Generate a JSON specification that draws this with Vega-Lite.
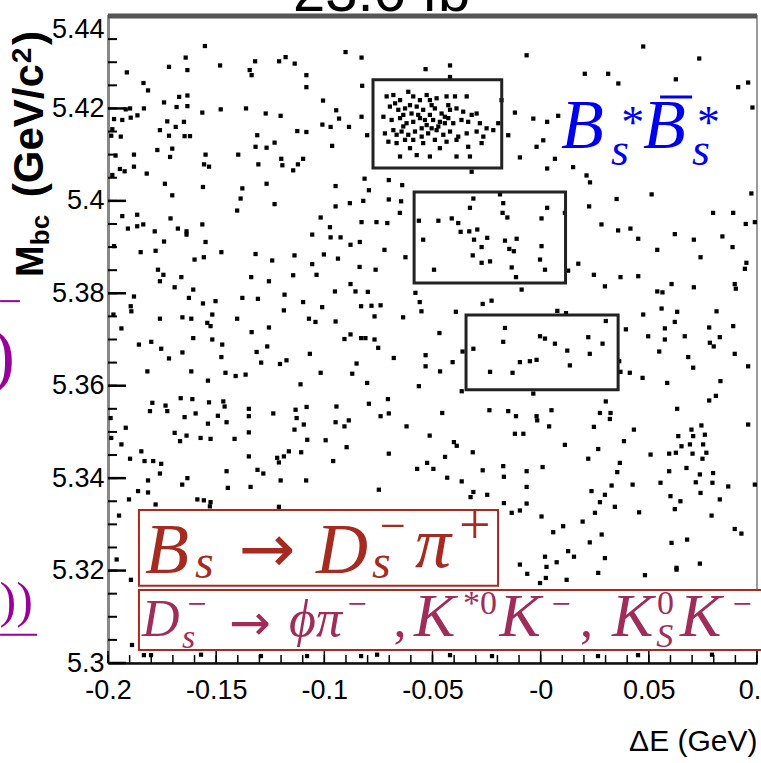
{
"$schema":"https://vega.github.io/schema/vega-lite/v6.json",
"width":649,"height":647,
"autosize":{"type":"none"},
"padding":{"left":108,"top":16,"right":4,"bottom":100},
"background":"white",
"config":{"view":{"stroke":"#9a9a9a","strokeWidth":2},"font":"Liberation Sans"},
"data":{"values":[{}]},
"layer":[
{"data":{"values":[
{"dE":-0.1552,"Mbc":5.4335},{"dE":-0.0902,"Mbc":5.4322},{"dE":-0.0828,"Mbc":5.4310},{"dE":-0.1641,"Mbc":5.4310},{"dE":-0.1718,"Mbc":5.4290},{"dE":-0.1633,"Mbc":5.4283},{"dE":-0.1482,"Mbc":5.4293},{"dE":-0.1320,"Mbc":5.4302},{"dE":-0.1209,"Mbc":5.4302},{"dE":-0.1179,"Mbc":5.4311},{"dE":-0.1137,"Mbc":5.4297},{"dE":-0.1913,"Mbc":5.4278},{"dE":-0.1345,"Mbc":5.4283},{"dE":-0.1336,"Mbc":5.4272},{"dE":-0.1083,"Mbc":5.4272},{"dE":-0.1083,"Mbc":5.4246},{"dE":-0.0825,"Mbc":5.4249},{"dE":-0.0532,"Mbc":5.4285},{"dE":-0.1836,"Mbc":5.4255},{"dE":-0.1815,"Mbc":5.4239},{"dE":-0.1633,"Mbc":5.4228},{"dE":-0.1671,"Mbc":5.4225},{"dE":-0.1741,"Mbc":5.4213},{"dE":-0.1683,"Mbc":5.4203},{"dE":-0.1633,"Mbc":5.4205},{"dE":-0.1006,"Mbc":5.4217},{"dE":-0.1479,"Mbc":5.4198},{"dE":-0.1362,"Mbc":5.4200},{"dE":-0.1564,"Mbc":5.4191},{"dE":-0.1271,"Mbc":5.4189},{"dE":-0.1202,"Mbc":5.4184},{"dE":-0.0945,"Mbc":5.4196},{"dE":-0.0932,"Mbc":5.4178},{"dE":-0.0828,"Mbc":5.4182},{"dE":-0.1009,"Mbc":5.4165},{"dE":-0.0971,"Mbc":5.4160},{"dE":-0.0886,"Mbc":5.4160},{"dE":-0.1125,"Mbc":5.4151},{"dE":-0.1083,"Mbc":5.4149},{"dE":-0.1834,"Mbc":5.4200},{"dE":-0.1918,"Mbc":5.4198},{"dE":-0.1898,"Mbc":5.4200},{"dE":-0.1864,"Mbc":5.4185},{"dE":-0.1895,"Mbc":5.4180},{"dE":-0.1934,"Mbc":5.4175},{"dE":-0.1972,"Mbc":5.4177},{"dE":-0.1726,"Mbc":5.4172},{"dE":-0.1649,"Mbc":5.4171},{"dE":-0.1687,"Mbc":5.4160},{"dE":-0.1760,"Mbc":5.4153},{"dE":-0.1718,"Mbc":5.4141},{"dE":-0.1646,"Mbc":5.4140},{"dE":-0.1621,"Mbc":5.4140},{"dE":-0.1310,"Mbc":5.4142},{"dE":-0.1267,"Mbc":5.4115},{"dE":-0.1230,"Mbc":5.4126},{"dE":-0.1318,"Mbc":5.4117},{"dE":-0.0964,"Mbc":5.4119},{"dE":-0.1703,"Mbc":5.4113},{"dE":-0.1772,"Mbc":5.4110},{"dE":-0.1713,"Mbc":5.4095},{"dE":-0.1880,"Mbc":5.4100},{"dE":-0.1549,"Mbc":5.4100},{"dE":-0.1398,"Mbc":5.4100},{"dE":-0.1199,"Mbc":5.4091},{"dE":-0.1098,"Mbc":5.4091},{"dE":-0.1122,"Mbc":5.4079},{"dE":-0.1305,"Mbc":5.4079},{"dE":-0.1194,"Mbc":5.4077},{"dE":-0.1556,"Mbc":5.4079},{"dE":-0.1533,"Mbc":5.4074},{"dE":-0.1880,"Mbc":5.4074},{"dE":-0.1923,"Mbc":5.4064},{"dE":-0.1945,"Mbc":5.4069},{"dE":-0.1980,"Mbc":5.4056},{"dE":-0.1821,"Mbc":5.4059},{"dE":-0.1144,"Mbc":5.4066},{"dE":-0.1737,"Mbc":5.4037},{"dE":-0.1561,"Mbc":5.4030},{"dE":-0.1267,"Mbc":5.4037},{"dE":-0.1379,"Mbc":5.4027},{"dE":-0.0948,"Mbc":5.4032},{"dE":-0.0814,"Mbc":5.4048},{"dE":-0.0794,"Mbc":5.4023},{"dE":-0.0702,"Mbc":5.4045},{"dE":-0.0640,"Mbc":5.4034},{"dE":-0.1703,"Mbc":5.4012},{"dE":-0.1387,"Mbc":5.4005},{"dE":-0.1980,"Mbc":5.4155},{"dE":-0.1985,"Mbc":5.4141},{"dE":-0.1941,"Mbc":5.4139},{"dE":-0.1965,"Mbc":5.4098},{"dE":-0.0802,"Mbc":5.4142},
{"dE":-0.0712,"Mbc":5.4226},{"dE":-0.0681,"Mbc":5.4229},{"dE":-0.0650,"Mbc":5.4218},{"dE":-0.0612,"Mbc":5.4236},{"dE":-0.0589,"Mbc":5.4226},{"dE":-0.0558,"Mbc":5.4218},{"dE":-0.0527,"Mbc":5.4229},{"dE":-0.0512,"Mbc":5.4218},{"dE":-0.0481,"Mbc":5.4222},{"dE":-0.0435,"Mbc":5.4226},{"dE":-0.0396,"Mbc":5.4226},{"dE":-0.0342,"Mbc":5.4226},{"dE":-0.0697,"Mbc":5.4204},{"dE":-0.0658,"Mbc":5.4197},{"dE":-0.0627,"Mbc":5.4200},{"dE":-0.0597,"Mbc":5.4189},{"dE":-0.0573,"Mbc":5.4204},{"dE":-0.0543,"Mbc":5.4197},{"dE":-0.0512,"Mbc":5.4186},{"dE":-0.0489,"Mbc":5.4200},{"dE":-0.0458,"Mbc":5.4189},{"dE":-0.0419,"Mbc":5.4197},{"dE":-0.0389,"Mbc":5.4200},{"dE":-0.0358,"Mbc":5.4193},{"dE":-0.0319,"Mbc":5.4186},{"dE":-0.0296,"Mbc":5.4189},{"dE":-0.0727,"Mbc":5.4182},{"dE":-0.0689,"Mbc":5.4175},{"dE":-0.0650,"Mbc":5.4179},{"dE":-0.0620,"Mbc":5.4168},{"dE":-0.0589,"Mbc":5.4171},{"dE":-0.0558,"Mbc":5.4179},{"dE":-0.0527,"Mbc":5.4164},{"dE":-0.0497,"Mbc":5.4175},{"dE":-0.0466,"Mbc":5.4171},{"dE":-0.0427,"Mbc":5.4179},{"dE":-0.0404,"Mbc":5.4168},{"dE":-0.0366,"Mbc":5.4175},{"dE":-0.0335,"Mbc":5.4171},{"dE":-0.0281,"Mbc":5.4168},{"dE":-0.0720,"Mbc":5.4146},{"dE":-0.0681,"Mbc":5.4153},{"dE":-0.0643,"Mbc":5.4150},{"dE":-0.0612,"Mbc":5.4143},{"dE":-0.0581,"Mbc":5.4150},{"dE":-0.0550,"Mbc":5.4157},{"dE":-0.0520,"Mbc":5.4146},{"dE":-0.0481,"Mbc":5.4153},{"dE":-0.0450,"Mbc":5.4143},{"dE":-0.0419,"Mbc":5.4150},{"dE":-0.0381,"Mbc":5.4139},{"dE":-0.0342,"Mbc":5.4146},{"dE":-0.0296,"Mbc":5.4150},{"dE":-0.0250,"Mbc":5.4157},{"dE":-0.0219,"Mbc":5.4153},{"dE":-0.0704,"Mbc":5.4128},{"dE":-0.0666,"Mbc":5.4125},{"dE":-0.0627,"Mbc":5.4132},{"dE":-0.0589,"Mbc":5.4132},{"dE":-0.0543,"Mbc":5.4125},{"dE":-0.0489,"Mbc":5.4132},{"dE":-0.0435,"Mbc":5.4128},{"dE":-0.0389,"Mbc":5.4132},{"dE":-0.0335,"Mbc":5.4117},{"dE":-0.0273,"Mbc":5.4125},{"dE":-0.0650,"Mbc":5.4096},{"dE":-0.0573,"Mbc":5.4099},{"dE":-0.0512,"Mbc":5.4096},{"dE":-0.0389,"Mbc":5.4096},{"dE":-0.0327,"Mbc":5.4096},{"dE":-0.0196,"Mbc":5.4168},{"dE":-0.0181,"Mbc":5.4218},{"dE":-0.0265,"Mbc":5.4139},{"dE":-0.0466,"Mbc":5.4114},{"dE":-0.0604,"Mbc":5.4114},{"dE":-0.0673,"Mbc":5.4211},{"dE":-0.0635,"Mbc":5.4186},{"dE":-0.0604,"Mbc":5.4207},{"dE":-0.0566,"Mbc":5.4186},{"dE":-0.0535,"Mbc":5.4175},{"dE":-0.0504,"Mbc":5.4207},{"dE":-0.0473,"Mbc":5.4161},{"dE":-0.0443,"Mbc":5.4168},{"dE":-0.0427,"Mbc":5.4207},{"dE":-0.0550,"Mbc":5.4139},{"dE":-0.0504,"Mbc":5.4157},{"dE":-0.0443,"Mbc":5.4182},{"dE":-0.0635,"Mbc":5.4161},{"dE":-0.0666,"Mbc":5.4143},
{"dE":0.0474,"Mbc":5.4334},{"dE":-0.0065,"Mbc":5.4315},{"dE":0.0733,"Mbc":5.4308},{"dE":-0.0419,"Mbc":5.4293},{"dE":0.0204,"Mbc":5.4275},{"dE":0.0312,"Mbc":5.4275},{"dE":0.0359,"Mbc":5.4254},{"dE":0.0625,"Mbc":5.4263},{"dE":0.0913,"Mbc":5.4246},{"dE":0.0959,"Mbc":5.4256},{"dE":0.0979,"Mbc":5.4202},{"dE":0.0486,"Mbc":5.4239},{"dE":-0.0119,"Mbc":5.4191},{"dE":-0.0034,"Mbc":5.4178},{"dE":0.0030,"Mbc":5.4171},{"dE":0.0081,"Mbc":5.4184},{"dE":-0.0150,"Mbc":5.4142},{"dE":0.0012,"Mbc":5.4131},{"dE":-0.0019,"Mbc":5.4117},{"dE":-0.0096,"Mbc":5.4094},{"dE":0.0066,"Mbc":5.4091},{"dE":0.0030,"Mbc":5.4070},{"dE":0.0150,"Mbc":5.4073},{"dE":0.0212,"Mbc":5.4055},{"dE":0.0228,"Mbc":5.4040},{"dE":0.0351,"Mbc":5.4004},{"dE":0.0513,"Mbc":5.4014},{"dE":0.0974,"Mbc":5.4016},{"dE":-0.0188,"Mbc":5.4014},{"dE":-0.0311,"Mbc":5.4005},{"dE":-0.0319,"Mbc":5.4063},{"dE":-0.0419,"Mbc":5.4268},
{"dE":-0.1403,"Mbc":5.3979},{"dE":-0.1230,"Mbc":5.3993},{"dE":-0.0948,"Mbc":5.3988},{"dE":-0.0882,"Mbc":5.3995},{"dE":-0.0820,"Mbc":5.4000},{"dE":-0.0702,"Mbc":5.4003},{"dE":-0.0645,"Mbc":5.3999},{"dE":-0.0651,"Mbc":5.3974},{"dE":-0.1934,"Mbc":5.3967},{"dE":-0.1865,"Mbc":5.3970},{"dE":-0.1837,"Mbc":5.3949},{"dE":-0.1865,"Mbc":5.3945},{"dE":-0.1908,"Mbc":5.3940},{"dE":-0.1711,"Mbc":5.3962},{"dE":-0.1784,"Mbc":5.3934},{"dE":-0.1677,"Mbc":5.3940},{"dE":-0.1637,"Mbc":5.3934},{"dE":-0.1637,"Mbc":5.3927},{"dE":-0.1564,"Mbc":5.3949},{"dE":-0.1741,"Mbc":5.3912},{"dE":-0.1549,"Mbc":5.3911},{"dE":-0.1017,"Mbc":5.3964},{"dE":-0.0974,"Mbc":5.3943},{"dE":-0.0828,"Mbc":5.3954},{"dE":-0.0759,"Mbc":5.3954},{"dE":-0.0709,"Mbc":5.3952},{"dE":-0.1056,"Mbc":5.3927},{"dE":-0.0971,"Mbc":5.3921},{"dE":-0.0925,"Mbc":5.3921},{"dE":-0.0879,"Mbc":5.3905},{"dE":-0.0836,"Mbc":5.3911},{"dE":-0.0722,"Mbc":5.3894},{"dE":-0.0625,"Mbc":5.3878},{"dE":-0.0563,"Mbc":5.3957},{"dE":-0.0543,"Mbc":5.3916},{"dE":-0.1849,"Mbc":5.3889},{"dE":-0.1780,"Mbc":5.3892},{"dE":-0.1476,"Mbc":5.3889},{"dE":-0.1318,"Mbc":5.3885},{"dE":-0.1600,"Mbc":5.3873},{"dE":-0.1557,"Mbc":5.3878},{"dE":-0.1241,"Mbc":5.3871},{"dE":-0.1138,"Mbc":5.3882},{"dE":-0.1002,"Mbc":5.3884},{"dE":-0.0937,"Mbc":5.3875},{"dE":-0.1056,"Mbc":5.3863},{"dE":-0.0837,"Mbc":5.3857},{"dE":-0.0763,"Mbc":5.3851},{"dE":-0.1769,"Mbc":5.3851},{"dE":-0.1744,"Mbc":5.3840},{"dE":-0.1661,"Mbc":5.3835},{"dE":-0.1760,"Mbc":5.3826},{"dE":-0.1338,"Mbc":5.3835},{"dE":-0.1256,"Mbc":5.3826},{"dE":-0.1144,"Mbc":5.3839},{"dE":-0.1036,"Mbc":5.3840},{"dE":-0.0879,"Mbc":5.3820},{"dE":-0.1692,"Mbc":5.3813},{"dE":-0.1606,"Mbc":5.3808},{"dE":-0.0856,"Mbc":5.3804},{"dE":-0.0799,"Mbc":5.3803},{"dE":-0.0951,"Mbc":5.3804},{"dE":-0.1880,"Mbc":5.3793},{"dE":-0.1626,"Mbc":5.3790},{"dE":-0.1561,"Mbc":5.3778},{"dE":-0.1503,"Mbc":5.3783},{"dE":-0.1379,"Mbc":5.3790},{"dE":-0.1307,"Mbc":5.3788},{"dE":-0.1184,"Mbc":5.3797},{"dE":-0.1098,"Mbc":5.3781},{"dE":-0.1010,"Mbc":5.3770},{"dE":-0.0830,"Mbc":5.3772},{"dE":-0.0782,"Mbc":5.3773},{"dE":-0.0740,"Mbc":5.3774},{"dE":-0.0579,"Mbc":5.3801},{"dE":-0.0559,"Mbc":5.3781},{"dE":-0.0551,"Mbc":5.3761},{"dE":-0.1895,"Mbc":5.3772},{"dE":-0.1892,"Mbc":5.3761},{"dE":-0.1760,"Mbc":5.3745},{"dE":-0.1656,"Mbc":5.3748},{"dE":-0.1615,"Mbc":5.3745},{"dE":-0.1518,"Mbc":5.3754},{"dE":-0.1403,"Mbc":5.3745},{"dE":-0.1187,"Mbc":5.3763},{"dE":-0.1071,"Mbc":5.3745},{"dE":-0.1041,"Mbc":5.3738},{"dE":-0.0948,"Mbc":5.3739},{"dE":-0.0768,"Mbc":5.3750},{"dE":-0.0636,"Mbc":5.3748},{"dE":-0.1938,"Mbc":5.3724},{"dE":-0.1541,"Mbc":5.3736},{"dE":-0.1526,"Mbc":5.3729},{"dE":-0.1336,"Mbc":5.3716},{"dE":-0.1256,"Mbc":5.3726},{"dE":-0.0907,"Mbc":5.3701},{"dE":-0.0879,"Mbc":5.3711},{"dE":-0.0830,"Mbc":5.3703},{"dE":-0.0810,"Mbc":5.3703},{"dE":-0.0768,"Mbc":5.3700},{"dE":-0.0751,"Mbc":5.3682},{"dE":-0.1857,"Mbc":5.3689},{"dE":-0.1800,"Mbc":5.3695},{"dE":-0.1754,"Mbc":5.3680},{"dE":-0.1718,"Mbc":5.3659},{"dE":-0.1656,"Mbc":5.3672},{"dE":-0.1606,"Mbc":5.3703},{"dE":-0.1518,"Mbc":5.3700},{"dE":-0.1472,"Mbc":5.3689},{"dE":-0.1476,"Mbc":5.3662},{"dE":-0.1313,"Mbc":5.3673},{"dE":-0.1264,"Mbc":5.3685},{"dE":-0.1067,"Mbc":5.3669},{"dE":-0.0679,"Mbc":5.3660},{"dE":-0.0532,"Mbc":5.3666},{"dE":-0.0532,"Mbc":5.3642},{"dE":-0.1292,"Mbc":5.3650},{"dE":-0.1205,"Mbc":5.3647},{"dE":-0.1175,"Mbc":5.3655},{"dE":-0.0851,"Mbc":5.3648},{"dE":-0.1818,"Mbc":5.3631},{"dE":-0.1615,"Mbc":5.3631},{"dE":-0.1457,"Mbc":5.3628},{"dE":-0.1410,"Mbc":5.3621},{"dE":-0.1364,"Mbc":5.3624},{"dE":-0.1017,"Mbc":5.3628},{"dE":-0.0871,"Mbc":5.3626},{"dE":-0.1538,"Mbc":5.3611},{"dE":-0.1110,"Mbc":5.3603},{"dE":-0.0802,"Mbc":5.3606},{"dE":-0.0563,"Mbc":5.3599},{"dE":-0.1972,"Mbc":5.3902},{"dE":-0.1975,"Mbc":5.3754},
{"dE":-0.0327,"Mbc":5.3985},{"dE":-0.0173,"Mbc":5.3995},{"dE":-0.0176,"Mbc":5.3974},{"dE":-0.0154,"Mbc":5.3964},{"dE":0.0030,"Mbc":5.3985},{"dE":-0.0473,"Mbc":5.3957},{"dE":-0.0411,"Mbc":5.3962},{"dE":-0.0381,"Mbc":5.3952},{"dE":-0.0370,"Mbc":5.3933},{"dE":-0.0330,"Mbc":5.3934},{"dE":-0.0293,"Mbc":5.3938},{"dE":-0.0308,"Mbc":5.3916},{"dE":-0.0247,"Mbc":5.3920},{"dE":-0.0273,"Mbc":5.3900},{"dE":-0.0165,"Mbc":5.3914},{"dE":-0.0111,"Mbc":5.3918},{"dE":-0.0145,"Mbc":5.3896},{"dE":-0.0124,"Mbc":5.3891},{"dE":-0.0314,"Mbc":5.3882},{"dE":-0.0273,"Mbc":5.3866},{"dE":-0.0234,"Mbc":5.3869},{"dE":-0.0134,"Mbc":5.3856},{"dE":-0.0003,"Mbc":5.3873},{"dE":0.0004,"Mbc":5.3902},{"dE":0.0004,"Mbc":5.3962},{"dE":0.0020,"Mbc":5.3851},{"dE":-0.0114,"Mbc":5.3835},{"dE":-0.0493,"Mbc":5.3851},{"dE":0.0112,"Mbc":5.3974},
{"dE":0.0224,"Mbc":5.3988},{"dE":0.0281,"Mbc":5.3949},{"dE":0.0358,"Mbc":5.3936},{"dE":0.0415,"Mbc":5.3940},{"dE":0.0451,"Mbc":5.3918},{"dE":0.0620,"Mbc":5.3928},{"dE":0.0708,"Mbc":5.3916},{"dE":0.0840,"Mbc":5.3923},{"dE":0.0797,"Mbc":5.3974},{"dE":0.0890,"Mbc":5.3974},{"dE":0.0948,"Mbc":5.3950},{"dE":0.0990,"Mbc":5.3954},{"dE":0.0539,"Mbc":5.3894},{"dE":0.0739,"Mbc":5.3878},{"dE":0.0887,"Mbc":5.3900},{"dE":0.0951,"Mbc":5.3866},{"dE":0.0944,"Mbc":5.3853},{"dE":0.0174,"Mbc":5.3864},{"dE":0.0246,"Mbc":5.3840},{"dE":0.0369,"Mbc":5.3835},{"dE":0.0451,"Mbc":5.3837},{"dE":0.0297,"Mbc":5.3815},{"dE":0.0127,"Mbc":5.3849},{"dE":0.0605,"Mbc":5.3820},{"dE":0.0708,"Mbc":5.3813},{"dE":0.0539,"Mbc":5.3804},{"dE":0.0563,"Mbc":5.3802},{"dE":0.0897,"Mbc":5.3820},{"dE":0.0902,"Mbc":5.3810},{"dE":-0.0088,"Mbc":5.3808},{"dE":-0.0268,"Mbc":5.3777},{"dE":-0.0227,"Mbc":5.3784},{"dE":-0.0392,"Mbc":5.3760},{"dE":0.0077,"Mbc":5.3762},{"dE":0.0117,"Mbc":5.3757},{"dE":0.0474,"Mbc":5.3754},{"dE":0.0559,"Mbc":5.3767},{"dE":0.0631,"Mbc":5.3760},{"dE":0.0620,"Mbc":5.3738},{"dE":0.0813,"Mbc":5.3761},{"dE":0.0890,"Mbc":5.3729},{"dE":0.0394,"Mbc":5.3722},{"dE":0.0497,"Mbc":5.3707},{"dE":0.0574,"Mbc":5.3700},{"dE":0.0574,"Mbc":5.3724},{"dE":0.0666,"Mbc":5.3707},{"dE":0.0779,"Mbc":5.3726},{"dE":0.0782,"Mbc":5.3693},{"dE":0.0800,"Mbc":5.3685},{"dE":0.0828,"Mbc":5.3705},{"dE":0.0548,"Mbc":5.3674},{"dE":0.0682,"Mbc":5.3662},{"dE":0.0897,"Mbc":5.3669},{"dE":0.0705,"Mbc":5.3639},{"dE":0.0959,"Mbc":5.3642},{"dE":0.0471,"Mbc":5.3617},{"dE":0.0585,"Mbc":5.3606},{"dE":0.0831,"Mbc":5.3610},{"dE":-0.0468,"Mbc":5.3714},{"dE":-0.0407,"Mbc":5.3651},{"dE":-0.0361,"Mbc":5.3674},{"dE":-0.0465,"Mbc":5.3631},
{"dE":-0.0165,"Mbc":5.3725},{"dE":-0.0173,"Mbc":5.3695},{"dE":-0.0003,"Mbc":5.3707},{"dE":0.0020,"Mbc":5.3702},{"dE":0.0066,"Mbc":5.3691},{"dE":-0.0311,"Mbc":5.3680},{"dE":0.0123,"Mbc":5.3676},{"dE":0.0220,"Mbc":5.3705},{"dE":0.0286,"Mbc":5.3691},{"dE":0.0227,"Mbc":5.3669},{"dE":-0.0096,"Mbc":5.3651},{"dE":-0.0050,"Mbc":5.3653},{"dE":-0.0019,"Mbc":5.3656},{"dE":0.0135,"Mbc":5.3644},{"dE":-0.0234,"Mbc":5.3630},{"dE":-0.0130,"Mbc":5.3628},{"dE":0.0301,"Mbc":5.3740},{"dE":0.0363,"Mbc":5.3653},{"dE":0.0369,"Mbc":5.3630},{"dE":0.0412,"Mbc":5.3628},
{"dE":-0.1795,"Mbc":5.3563},{"dE":-0.1734,"Mbc":5.3557},{"dE":-0.1664,"Mbc":5.3573},{"dE":-0.1610,"Mbc":5.3571},{"dE":-0.1533,"Mbc":5.3564},{"dE":-0.1467,"Mbc":5.3566},{"dE":-0.1461,"Mbc":5.3555},{"dE":-0.1806,"Mbc":5.3545},{"dE":-0.1726,"Mbc":5.3545},{"dE":-0.1646,"Mbc":5.3532},{"dE":-0.1595,"Mbc":5.3540},{"dE":-0.1538,"Mbc":5.3518},{"dE":-0.1492,"Mbc":5.3535},{"dE":-0.1452,"Mbc":5.3521},{"dE":-0.1349,"Mbc":5.3550},{"dE":-0.1349,"Mbc":5.3534},{"dE":-0.1236,"Mbc":5.3540},{"dE":-0.1133,"Mbc":5.3548},{"dE":-0.1128,"Mbc":5.3530},{"dE":-0.1082,"Mbc":5.3554},{"dE":-0.0944,"Mbc":5.3555},{"dE":-0.0794,"Mbc":5.3561},{"dE":-0.0706,"Mbc":5.3571},{"dE":-0.0740,"Mbc":5.3534},{"dE":-0.0702,"Mbc":5.3540},{"dE":-0.0948,"Mbc":5.3521},{"dE":-0.0887,"Mbc":5.3525},{"dE":-0.0907,"Mbc":5.3512},{"dE":-0.0620,"Mbc":5.3512},{"dE":-0.0513,"Mbc":5.3492},{"dE":-0.1918,"Mbc":5.3509},{"dE":-0.1692,"Mbc":5.3498},{"dE":-0.1637,"Mbc":5.3492},{"dE":-0.1667,"Mbc":5.3480},{"dE":-0.1572,"Mbc":5.3487},{"dE":-0.1526,"Mbc":5.3485},{"dE":-0.1415,"Mbc":5.3485},{"dE":-0.1349,"Mbc":5.3499},{"dE":-0.1138,"Mbc":5.3505},{"dE":-0.1095,"Mbc":5.3516},{"dE":-0.1079,"Mbc":5.3483},{"dE":-0.0994,"Mbc":5.3482},{"dE":-0.0897,"Mbc":5.3467},{"dE":-0.1938,"Mbc":5.3473},{"dE":-0.1898,"Mbc":5.3442},{"dE":-0.1846,"Mbc":5.3458},{"dE":-0.1831,"Mbc":5.3437},{"dE":-0.1791,"Mbc":5.3437},{"dE":-0.1754,"Mbc":5.3431},{"dE":-0.1349,"Mbc":5.3447},{"dE":-0.1218,"Mbc":5.3444},{"dE":-0.1210,"Mbc":5.3434},{"dE":-0.1187,"Mbc":5.3447},{"dE":-0.1164,"Mbc":5.3458},{"dE":-0.1107,"Mbc":5.3456},{"dE":-0.0959,"Mbc":5.3437},{"dE":-0.0702,"Mbc":5.3453},{"dE":-0.1760,"Mbc":5.3410},{"dE":-0.1815,"Mbc":5.3395},{"dE":-0.1657,"Mbc":5.3386},{"dE":-0.1633,"Mbc":5.3400},{"dE":-0.1452,"Mbc":5.3415},{"dE":-0.1309,"Mbc":5.3418},{"dE":-0.1282,"Mbc":5.3410},{"dE":-0.1202,"Mbc":5.3395},{"dE":-0.1084,"Mbc":5.3395},{"dE":-0.0571,"Mbc":5.3420},{"dE":-0.0525,"Mbc":5.3433},{"dE":-0.1446,"Mbc":5.3379},{"dE":-0.1341,"Mbc":5.3381},{"dE":-0.0748,"Mbc":5.3375},{"dE":-0.1861,"Mbc":5.3372},{"dE":-0.1815,"Mbc":5.3369},{"dE":-0.1903,"Mbc":5.3354},{"dE":-0.1587,"Mbc":5.3354},{"dE":-0.1557,"Mbc":5.3352},{"dE":-0.1526,"Mbc":5.3348},{"dE":-0.1529,"Mbc":5.3339},{"dE":-0.1780,"Mbc":5.3343},{"dE":-0.1949,"Mbc":5.3319},{"dE":-0.1960,"Mbc":5.3224},{"dE":-0.1210,"Mbc":5.3338},{"dE":-0.1988,"Mbc":5.3530},{"dE":-0.1985,"Mbc":5.3487},
{"dE":-0.0365,"Mbc":5.3588},{"dE":-0.0034,"Mbc":5.3583},{"dE":0.0779,"Mbc":5.3568},{"dE":0.0810,"Mbc":5.3578},{"dE":-0.0455,"Mbc":5.3541},{"dE":-0.0237,"Mbc":5.3547},{"dE":-0.0150,"Mbc":5.3545},{"dE":-0.0114,"Mbc":5.3534},{"dE":-0.0019,"Mbc":5.3534},{"dE":-0.0016,"Mbc":5.3525},{"dE":0.0050,"Mbc":5.3547},{"dE":0.0039,"Mbc":5.3512},{"dE":-0.0119,"Mbc":5.3496},{"dE":-0.0080,"Mbc":5.3496},{"dE":0.0301,"Mbc":5.3566},{"dE":0.0274,"Mbc":5.3541},{"dE":0.0323,"Mbc":5.3541},{"dE":0.0320,"Mbc":5.3528},{"dE":0.0246,"Mbc":5.3511},{"dE":0.0431,"Mbc":5.3505},{"dE":0.0631,"Mbc":5.3550},{"dE":0.0959,"Mbc":5.3516},{"dE":-0.0401,"Mbc":5.3478},{"dE":-0.0388,"Mbc":5.3470},{"dE":-0.0314,"Mbc":5.3456},{"dE":-0.0442,"Mbc":5.3446},{"dE":-0.0496,"Mbc":5.3420},{"dE":0.0112,"Mbc":5.3472},{"dE":0.0266,"Mbc":5.3463},{"dE":0.0220,"Mbc":5.3442},{"dE":0.0385,"Mbc":5.3480},{"dE":0.0508,"Mbc":5.3451},{"dE":0.0594,"Mbc":5.3453},{"dE":0.0625,"Mbc":5.3455},{"dE":0.0636,"Mbc":5.3491},{"dE":0.0697,"Mbc":5.3505},{"dE":0.0705,"Mbc":5.3491},{"dE":0.0743,"Mbc":5.3514},{"dE":0.0759,"Mbc":5.3494},{"dE":0.0651,"Mbc":5.3469},{"dE":0.0690,"Mbc":5.3473},{"dE":0.0702,"Mbc":5.3453},{"dE":0.0751,"Mbc":5.3473},{"dE":0.0766,"Mbc":5.3455},{"dE":0.0748,"Mbc":5.3442},{"dE":0.0366,"Mbc":5.3433},{"dE":0.0354,"Mbc":5.3413},{"dE":-0.0268,"Mbc":5.3417},{"dE":-0.0173,"Mbc":5.3426},{"dE":-0.0170,"Mbc":5.3403},{"dE":-0.0065,"Mbc":5.3415},{"dE":-0.0065,"Mbc":5.3381},{"dE":0.0009,"Mbc":5.3424},{"dE":-0.0432,"Mbc":5.3401},{"dE":-0.0365,"Mbc":5.3393},{"dE":-0.0311,"Mbc":5.3370},{"dE":-0.0324,"Mbc":5.3359},{"dE":-0.0247,"Mbc":5.3364},{"dE":-0.0170,"Mbc":5.3346},{"dE":-0.0065,"Mbc":5.3345},{"dE":-0.0134,"Mbc":5.3325},{"dE":-0.0096,"Mbc":5.3330},{"dE":0.0594,"Mbc":5.3415},{"dE":0.0674,"Mbc":5.3422},{"dE":0.0736,"Mbc":5.3408},{"dE":0.0797,"Mbc":5.3411},{"dE":0.0717,"Mbc":5.3391},{"dE":0.0739,"Mbc":5.3368},{"dE":0.0794,"Mbc":5.3390},{"dE":0.0867,"Mbc":5.3382},{"dE":0.0990,"Mbc":5.3386},{"dE":0.0554,"Mbc":5.3390},{"dE":0.0600,"Mbc":5.3361},{"dE":0.0646,"Mbc":5.3350},{"dE":0.0620,"Mbc":5.3333},{"dE":0.0828,"Mbc":5.3354},{"dE":0.0790,"Mbc":5.3319},{"dE":0.0235,"Mbc":5.3372},{"dE":0.0297,"Mbc":5.3364},{"dE":0.0274,"Mbc":5.3348},{"dE":0.0328,"Mbc":5.3384},{"dE":0.0425,"Mbc":5.3386},{"dE":0.0251,"Mbc":5.3325},{"dE":0.0343,"Mbc":5.3338},{"dE":0.0455,"Mbc":5.3326},{"dE":0.0004,"Mbc":5.3317},{"dE":0.0194,"Mbc":5.3306},{"dE":0.0058,"Mbc":5.3283},{"dE":0.0104,"Mbc":5.3296},{"dE":0.0282,"Mbc":5.3278},{"dE":0.0227,"Mbc":5.3261},{"dE":0.0127,"Mbc":5.3242},{"dE":0.0154,"Mbc":5.3230},{"dE":0.0020,"Mbc":5.3230},{"dE":0.0027,"Mbc":5.3208},{"dE":0.0074,"Mbc":5.3218},{"dE":-0.0096,"Mbc":5.3213},{"dE":0.0297,"Mbc":5.3227},{"dE":0.0628,"Mbc":5.3206},{"dE":0.0736,"Mbc":5.3215},{"dE":0.0605,"Mbc":5.3260},{"dE":0.0677,"Mbc":5.3267},{"dE":0.0897,"Mbc":5.3290},{"dE":0.0928,"Mbc":5.3280},
{"dE":-0.0062,"Mbc":5.3193},{"dE":-0.0003,"Mbc":5.3173},{"dE":0.0024,"Mbc":5.3184},{"dE":0.0120,"Mbc":5.3180},{"dE":0.0266,"Mbc":5.3195},{"dE":0.0482,"Mbc":5.3190},{"dE":0.0628,"Mbc":5.3202},{"dE":-0.1894,"Mbc":5.3180},{"dE":-0.1889,"Mbc":5.3039},{"dE":-0.1834,"Mbc":5.3017},{"dE":-0.1801,"Mbc":5.3017},{"dE":-0.1293,"Mbc":5.3015},{"dE":-0.1080,"Mbc":5.3015},{"dE":-0.0830,"Mbc":5.3015},{"dE":-0.0756,"Mbc":5.3018},{"dE":-0.1570,"Mbc":5.3018},{"dE":-0.0419,"Mbc":5.3017},{"dE":-0.0225,"Mbc":5.3015},{"dE":0.0265,"Mbc":5.3015},{"dE":0.0450,"Mbc":5.3017},{"dE":0.0792,"Mbc":5.3018}
]},
"mark":{"type":"point","shape":"square","filled":true,"color":"#000","size":18,"opacity":1},
"encoding":{
"x":{"field":"dE","type":"quantitative","title":"ΔE (GeV)","scale":{"domain":[-0.2,0.1],"nice":false,"zero":false},
"axis":{"values":[-0.2,-0.15,-0.1,-0.05,0,0.05,0.1],
"labelExpr":"abs(datum.value) < 0.000001 ? '-0' : replace(format(datum.value, '.2~f'), '\u2212', '-')",
"ticks":false,"labelPadding":14,"labelFont":"Liberation Sans Narrow, Liberation Sans","labelFontSize":27,"labelColor":"#000",
"labelOverlap":false,"labelBound":false,"labelFlush":false,
"domainColor":"#111","domainWidth":2.5,"grid":false,
"titleFont":"Liberation Sans","titleFontSize":30,"titleFontWeight":"normal","titleColor":"#000",
"titleAnchor":"end","titleAlign":"right","titleBaseline":"alphabetic","titleY":87}},
"y":{"field":"Mbc","type":"quantitative","title":null,"scale":{"domain":[5.3,5.44],"nice":false,"zero":false},
"axis":{"values":[5.3,5.32,5.34,5.36,5.38,5.4,5.42,5.44],"format":".2~f",
"labelBaseline":{"condition":{"test":"datum.value > 5.439","value":"top"},"value":"middle"},
"ticks":false,"labelPadding":4,"labelFont":"Liberation Sans Narrow, Liberation Sans","labelFontSize":27,"labelColor":"#000",
"labelOverlap":false,"labelBound":false,"labelFlush":false,
"domainColor":"#888","domainWidth":3,"grid":false}}
}},
{"data":{"values":[{"t":5.3},{"t":5.305},{"t":5.31},{"t":5.315},{"t":5.32},{"t":5.325},{"t":5.33},{"t":5.335},{"t":5.34},{"t":5.345},{"t":5.35},{"t":5.355},{"t":5.36},{"t":5.365},{"t":5.37},{"t":5.375},{"t":5.38},{"t":5.385},{"t":5.39},{"t":5.395},{"t":5.4},{"t":5.405},{"t":5.41},{"t":5.415},{"t":5.42},{"t":5.425},{"t":5.43},{"t":5.435},{"t":5.44}]},
"mark":{"type":"rule","color":"#000","strokeWidth":2},
"encoding":{"y":{"field":"t","type":"quantitative"},"x":{"datum":-0.2,"type":"quantitative"},"x2":{"datum":-0.19584}}},
{"data":{"values":[{"t":5.3},{"t":5.32},{"t":5.34},{"t":5.36},{"t":5.38},{"t":5.4},{"t":5.42},{"t":5.44}]},
"mark":{"type":"rule","color":"#000","strokeWidth":2.5},
"encoding":{"y":{"field":"t","type":"quantitative"},"x":{"datum":-0.2,"type":"quantitative"},"x2":{"datum":-0.19168}}},
{"data":{"values":[{"t":-0.2},{"t":-0.19},{"t":-0.18},{"t":-0.17},{"t":-0.16},{"t":-0.15},{"t":-0.14},{"t":-0.13},{"t":-0.12},{"t":-0.11},{"t":-0.1},{"t":-0.09},{"t":-0.08},{"t":-0.07},{"t":-0.06},{"t":-0.05},{"t":-0.04},{"t":-0.03},{"t":-0.02},{"t":-0.01},{"t":0},{"t":0.01},{"t":0.02},{"t":0.03},{"t":0.04},{"t":0.05},{"t":0.06},{"t":0.07},{"t":0.08},{"t":0.09},{"t":0.1}]},
"mark":{"type":"rule","color":"#000","strokeWidth":1.5},
"encoding":{"x":{"field":"t","type":"quantitative"},"y":{"datum":5.3,"type":"quantitative"},"y2":{"datum":5.30173}}},
{"data":{"values":[{"t":-0.2},{"t":-0.15},{"t":-0.1},{"t":-0.05},{"t":0},{"t":0.05},{"t":0.1}]},
"mark":{"type":"rule","color":"#000","strokeWidth":1.5},
"encoding":{"x":{"field":"t","type":"quantitative"},"y":{"datum":5.3,"type":"quantitative"},"y2":{"datum":5.3026}}},
{"data":{"values":[{"x1":-0.0775,"x2":-0.018,"y1":5.4071,"y2":5.4262},{"x1":-0.0585,"x2":0.0115,"y1":5.3822,"y2":5.4019},{"x1":-0.0345,"x2":0.0358,"y1":5.3591,"y2":5.3753}]},
"mark":{"type":"rect","filled":false,"stroke":"#222","strokeWidth":3},
"encoding":{"x":{"field":"x1","type":"quantitative"},"x2":{"field":"x2"},"y":{"field":"y1","type":"quantitative"},"y2":{"field":"y2"}}},
{"mark":{"type":"rule","color":"#555","strokeWidth":5},"encoding":{"x":{"datum":-0.2,"type":"quantitative"},"x2":{"datum":0.1},"y":{"datum":5.44,"type":"quantitative"}}},
{"mark":{"type":"rect","fill":"white","stroke":null},"encoding":{"x":{"datum":0.0099,"type":"quantitative"},"x2":{"datum":0.0838},"y":{"datum":5.4080,"type":"quantitative"},"y2":{"datum":5.4244}}},
{"mark":{"type":"text","text":"B","font":"Liberation Serif","fontStyle":"italic","fontSize":70,"color":"#0000f0","align":"left","baseline":"alphabetic"},"encoding":{"x":{"datum":0.0094,"type":"quantitative"},"y":{"datum":5.4114,"type":"quantitative"}}},
{"mark":{"type":"text","text":"*","font":"Liberation Serif","fontSize":46,"color":"#0000f0","align":"left","baseline":"alphabetic"},"encoding":{"x":{"datum":0.0372,"type":"quantitative"},"y":{"datum":5.4136,"type":"quantitative"}}},
{"mark":{"type":"text","text":"s","font":"Liberation Serif","fontStyle":"italic","fontSize":46,"color":"#0000f0","align":"left","baseline":"alphabetic"},"encoding":{"x":{"datum":0.0325,"type":"quantitative"},"y":{"datum":5.4078,"type":"quantitative"}}},
{"mark":{"type":"text","text":"B","font":"Liberation Serif","fontStyle":"italic","fontSize":70,"color":"#0000f0","align":"left","baseline":"alphabetic"},"encoding":{"x":{"datum":0.0473,"type":"quantitative"},"y":{"datum":5.4114,"type":"quantitative"}}},
{"mark":{"type":"rule","color":"#0000f0","strokeWidth":3},"encoding":{"x":{"datum":0.0552,"type":"quantitative"},"x2":{"datum":0.0700},"y":{"datum":5.4225,"type":"quantitative"}}},
{"mark":{"type":"text","text":"*","font":"Liberation Serif","fontSize":46,"color":"#0000f0","align":"left","baseline":"alphabetic"},"encoding":{"x":{"datum":0.0723,"type":"quantitative"},"y":{"datum":5.4136,"type":"quantitative"}}},
{"mark":{"type":"text","text":"s","font":"Liberation Serif","fontStyle":"italic","fontSize":46,"color":"#0000f0","align":"left","baseline":"alphabetic"},"encoding":{"x":{"datum":0.0699,"type":"quantitative"},"y":{"datum":5.4078,"type":"quantitative"}}},
{"data":{"values":[{"x1":-0.1857,"x2":-0.0197,"y1":5.3167,"y2":5.3331},{"x1":-0.1857,"x2":0.106,"y1":5.3028,"y2":5.3158}]},
"mark":{"type":"rect","fill":"white","stroke":"#a52a1f","strokeWidth":2},
"encoding":{"x":{"field":"x1","type":"quantitative"},"x2":{"field":"x2"},"y":{"field":"y1","type":"quantitative"},"y2":{"field":"y2"}}},
{"mark":{"type":"text","text":"B","font":"Liberation Serif","fontStyle":"italic","fontSize":72,"color":"#a52a1f","align":"left","baseline":"alphabetic"},"encoding":{"x":{"datum":-0.1829,"type":"quantitative"},"y":{"datum":5.3195,"type":"quantitative"}}},
{"mark":{"type":"text","text":"s","font":"Liberation Serif","fontStyle":"italic","fontSize":48,"color":"#a52a1f","align":"left","baseline":"alphabetic"},"encoding":{"x":{"datum":-0.1598,"type":"quantitative"},"y":{"datum":5.3184,"type":"quantitative"}}},
{"mark":{"type":"text","text":"→","font":"DejaVu Sans","fontSize":68,"color":"#a52a1f","align":"center","baseline":"alphabetic"},"encoding":{"x":{"datum":-0.1265,"type":"quantitative"},"y":{"datum":5.3197,"type":"quantitative"}}},
{"mark":{"type":"text","text":"D","font":"Liberation Serif","fontStyle":"italic","fontSize":72,"color":"#a52a1f","align":"left","baseline":"alphabetic"},"encoding":{"x":{"datum":-0.1039,"type":"quantitative"},"y":{"datum":5.3195,"type":"quantitative"}}},
{"mark":{"type":"text","text":"−","font":"Liberation Serif","fontSize":46,"color":"#a52a1f","align":"center","baseline":"alphabetic"},"encoding":{"x":{"datum":-0.0683,"type":"quantitative"},"y":{"datum":5.3264,"type":"quantitative"}}},
{"mark":{"type":"text","text":"s","font":"Liberation Serif","fontStyle":"italic","fontSize":48,"color":"#a52a1f","align":"left","baseline":"alphabetic"},"encoding":{"x":{"datum":-0.0780,"type":"quantitative"},"y":{"datum":5.3184,"type":"quantitative"}}},
{"mark":{"type":"text","text":"π","font":"Liberation Serif","fontStyle":"italic","fontSize":72,"color":"#a52a1f","align":"left","baseline":"alphabetic"},"encoding":{"x":{"datum":-0.0581,"type":"quantitative"},"y":{"datum":5.3208,"type":"quantitative"}}},
{"mark":{"type":"text","text":"+","font":"Liberation Serif","fontSize":56,"color":"#a52a1f","align":"center","baseline":"alphabetic"},"encoding":{"x":{"datum":-0.0304,"type":"quantitative"},"y":{"datum":5.3258,"type":"quantitative"}}},
{"mark":{"type":"text","text":"D","font":"Liberation Serif","fontStyle":"italic","fontSize":52,"color":"#a02c5a","align":"left","baseline":"alphabetic"},"encoding":{"x":{"datum":-0.1843,"type":"quantitative"},"y":{"datum":5.3058,"type":"quantitative"}}},
{"mark":{"type":"text","text":"−","font":"Liberation Serif","fontSize":34,"color":"#a02c5a","align":"center","baseline":"alphabetic"},"encoding":{"x":{"datum":-0.1589,"type":"quantitative"},"y":{"datum":5.3104,"type":"quantitative"}}},
{"mark":{"type":"text","text":"s","font":"Liberation Serif","fontStyle":"italic","fontSize":34,"color":"#a02c5a","align":"left","baseline":"alphabetic"},"encoding":{"x":{"datum":-0.1658,"type":"quantitative"},"y":{"datum":5.3032,"type":"quantitative"}}},
{"mark":{"type":"text","text":"→","font":"DejaVu Sans","fontSize":50,"color":"#a02c5a","align":"center","baseline":"alphabetic"},"encoding":{"x":{"datum":-0.1344,"type":"quantitative"},"y":{"datum":5.3050,"type":"quantitative"}}},
{"mark":{"type":"text","text":"ϕπ","font":"Liberation Serif","fontStyle":"italic","fontSize":52,"color":"#a02c5a","align":"left","baseline":"alphabetic"},"encoding":{"x":{"datum":-0.1163,"type":"quantitative"},"y":{"datum":5.3058,"type":"quantitative"}}},
{"mark":{"type":"text","text":"−","font":"Liberation Serif","fontSize":34,"color":"#a02c5a","align":"center","baseline":"alphabetic"},"encoding":{"x":{"datum":-0.0849,"type":"quantitative"},"y":{"datum":5.3104,"type":"quantitative"}}},
{"mark":{"type":"text","text":",","font":"Liberation Serif","fontSize":52,"color":"#a02c5a","align":"left","baseline":"alphabetic"},"encoding":{"x":{"datum":-0.0680,"type":"quantitative"},"y":{"datum":5.3058,"type":"quantitative"}}},
{"mark":{"type":"text","text":"K","font":"Liberation Serif","fontStyle":"italic","fontSize":62,"color":"#a02c5a","align":"left","baseline":"alphabetic"},"encoding":{"x":{"datum":-0.0585,"type":"quantitative"},"y":{"datum":5.3058,"type":"quantitative"}}},
{"mark":{"type":"text","text":"*0","font":"Liberation Serif","fontSize":34,"color":"#a02c5a","align":"left","baseline":"alphabetic"},"encoding":{"x":{"datum":-0.0359,"type":"quantitative"},"y":{"datum":5.3106,"type":"quantitative"}}},
{"mark":{"type":"text","text":"K","font":"Liberation Serif","fontStyle":"italic","fontSize":62,"color":"#a02c5a","align":"left","baseline":"alphabetic"},"encoding":{"x":{"datum":-0.0190,"type":"quantitative"},"y":{"datum":5.3058,"type":"quantitative"}}},
{"mark":{"type":"text","text":"−","font":"Liberation Serif","fontSize":34,"color":"#a02c5a","align":"center","baseline":"alphabetic"},"encoding":{"x":{"datum":0.0094,"type":"quantitative"},"y":{"datum":5.3104,"type":"quantitative"}}},
{"mark":{"type":"text","text":",","font":"Liberation Serif","fontSize":52,"color":"#a02c5a","align":"left","baseline":"alphabetic"},"encoding":{"x":{"datum":0.0182,"type":"quantitative"},"y":{"datum":5.3058,"type":"quantitative"}}},
{"mark":{"type":"text","text":"K","font":"Liberation Serif","fontStyle":"italic","fontSize":62,"color":"#a02c5a","align":"left","baseline":"alphabetic"},"encoding":{"x":{"datum":0.0330,"type":"quantitative"},"y":{"datum":5.3058,"type":"quantitative"}}},
{"mark":{"type":"text","text":"0","font":"Liberation Serif","fontSize":34,"color":"#a02c5a","align":"left","baseline":"alphabetic"},"encoding":{"x":{"datum":0.0538,"type":"quantitative"},"y":{"datum":5.3106,"type":"quantitative"}}},
{"mark":{"type":"text","text":"S","font":"Liberation Serif","fontStyle":"italic","fontSize":34,"color":"#a02c5a","align":"left","baseline":"alphabetic"},"encoding":{"x":{"datum":0.0534,"type":"quantitative"},"y":{"datum":5.3035,"type":"quantitative"}}},
{"mark":{"type":"text","text":"K","font":"Liberation Serif","fontStyle":"italic","fontSize":62,"color":"#a02c5a","align":"left","baseline":"alphabetic"},"encoding":{"x":{"datum":0.0644,"type":"quantitative"},"y":{"datum":5.3058,"type":"quantitative"}}},
{"mark":{"type":"text","text":"−","font":"Liberation Serif","fontSize":34,"color":"#a02c5a","align":"center","baseline":"alphabetic"},"encoding":{"x":{"datum":0.0931,"type":"quantitative"},"y":{"datum":5.3104,"type":"quantitative"}}},
{"mark":{"type":"text","text":")","font":"Liberation Serif","fontSize":72,"color":"#990099","align":"right","baseline":"middle"},"encoding":{"x":{"datum":-0.2430,"type":"quantitative"},"y":{"datum":5.3662,"type":"quantitative"}}},
{"mark":{"type":"text","text":"))","font":"Liberation Serif","fontSize":50,"color":"#990099","align":"right","baseline":"middle"},"encoding":{"x":{"datum":-0.2347,"type":"quantitative"},"y":{"datum":5.3132,"type":"quantitative"}}},
{"mark":{"type":"rule","color":"#990099","strokeWidth":2},"encoding":{"x":{"datum":-0.2499,"type":"quantitative"},"x2":{"datum":-0.2328},"y":{"datum":5.3061,"type":"quantitative"}}},
{"mark":{"type":"rule","color":"#990099","strokeWidth":2},"encoding":{"x":{"datum":-0.2499,"type":"quantitative"},"x2":{"datum":-0.2407},"y":{"datum":5.3783,"type":"quantitative"}}},
{"mark":{"type":"text","text":"M","font":"Liberation Sans","fontWeight":"bold","fontSize":38,"color":"#000","angle":270,"align":"left","baseline":"alphabetic"},"encoding":{"x":{"datum":-0.2300,"type":"quantitative"},"y":{"datum":5.3835,"type":"quantitative"}}},
{"mark":{"type":"text","text":"bc","font":"Liberation Sans","fontWeight":"bold","fontSize":26,"color":"#000","angle":270,"align":"left","baseline":"alphabetic"},"encoding":{"x":{"datum":-0.2273,"type":"quantitative"},"y":{"datum":5.3904,"type":"quantitative"}}},
{"mark":{"type":"text","text":"(GeV/c","font":"Liberation Sans","fontWeight":"bold","fontSize":42,"color":"#000","angle":270,"align":"left","baseline":"alphabetic"},"encoding":{"x":{"datum":-0.2300,"type":"quantitative"},"y":{"datum":5.4008,"type":"quantitative"}}},
{"mark":{"type":"text","text":"2","font":"Liberation Sans","fontWeight":"bold","fontSize":28,"color":"#000","angle":270,"align":"left","baseline":"alphabetic"},"encoding":{"x":{"datum":-0.2356,"type":"quantitative"},"y":{"datum":5.4298,"type":"quantitative"}}},
{"mark":{"type":"text","text":")","font":"Liberation Sans","fontWeight":"bold","fontSize":42,"color":"#000","angle":270,"align":"left","baseline":"alphabetic"},"encoding":{"x":{"datum":-0.2300,"type":"quantitative"},"y":{"datum":5.4337,"type":"quantitative"}}},
{"mark":{"type":"text","text":"23.6 fb","font":"Liberation Sans","fontSize":58,"color":"#000","align":"left","baseline":"alphabetic"},"encoding":{"x":{"datum":-0.1145,"type":"quantitative"},"y":{"datum":5.4411,"type":"quantitative"}}}
]
}
